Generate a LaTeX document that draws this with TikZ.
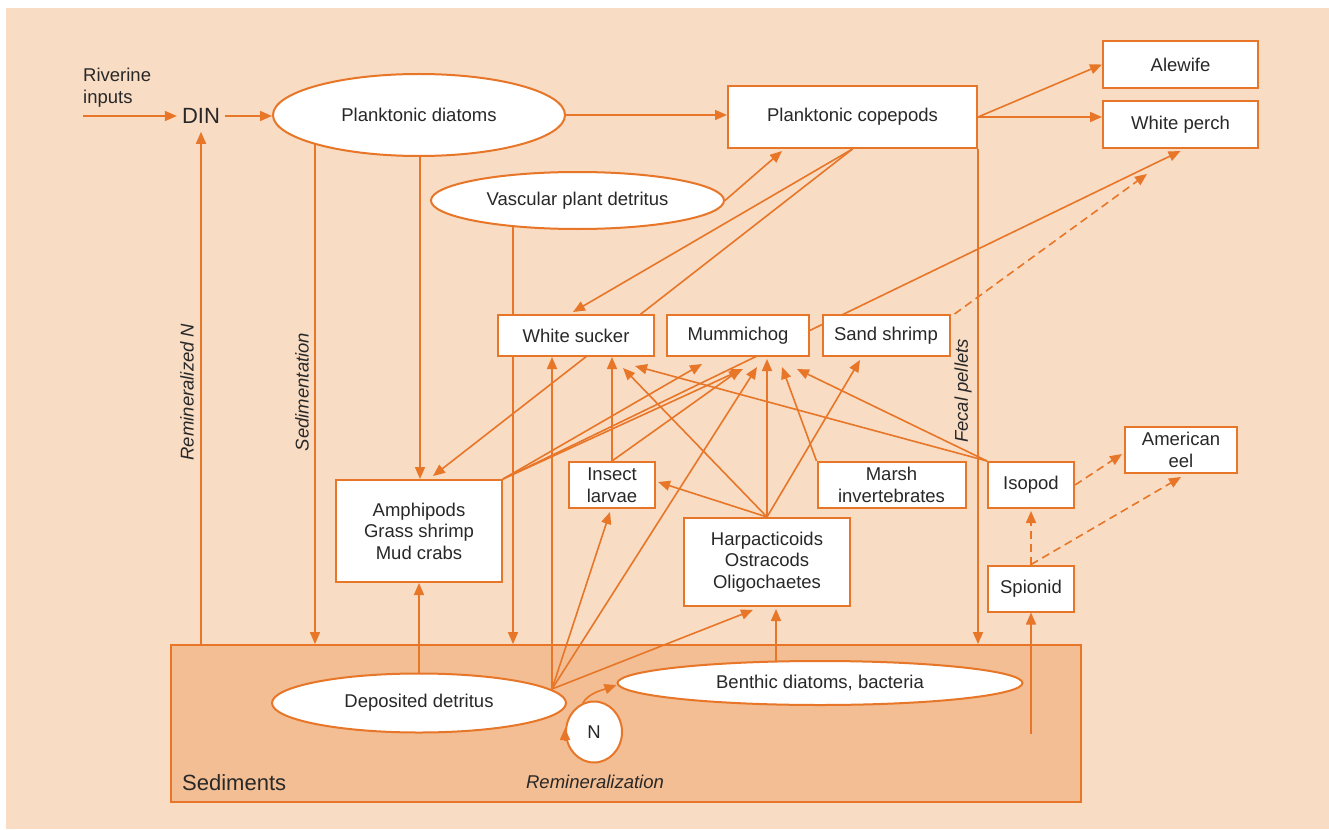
\documentclass[tikz,border=0pt]{standalone}
\usepackage{fontspec}
\setmainfont{Liberation Sans}
\usetikzlibrary{arrows.meta,shapes.geometric,calc}
\definecolor{peach}{RGB}{249,220,196}
\definecolor{sedc}{RGB}{243,190,148}
\definecolor{orc}{RGB}{231,118,40}
\definecolor{txt}{RGB}{40,40,40}
\newcommand\lblfont{\fontsize{18.5}{21.5}\selectfont}
\pgfdeclarelayer{bglayer}
\pgfdeclarelayer{edgelayer}
\pgfsetlayers{bglayer,edgelayer,main}
\begin{document}
\begin{tikzpicture}[x=1pt,y=-1pt,
  every node/.style={text=txt,font=\lblfont,inner sep=0pt},
  box/.style={draw=orc,line width=2pt,fill=white,rectangle,inner sep=0pt,align=center},
  ell/.style={draw=orc,line width=2pt,fill=white,ellipse,inner sep=0pt},
  ln/.style={draw=orc,line width=1.6pt},
  arr/.style={ln,-{Triangle[length=12pt,width=10pt]}},
  darr/.style={arr,dash pattern=on 8pt off 5pt},
  lab/.style={font=\lblfont\itshape,rotate=90}]
\useasboundingbox (0,0) rectangle (1329,829);
\begin{pgfonlayer}{bglayer}
\fill[peach] (6,8) rectangle (1329,829);
\node[draw=orc,fill=sedc,line width=1.8pt,minimum width=910pt,minimum height=157pt] (sed) at (626,723.5) {};
\end{pgfonlayer}

% nodes
\node[ell,minimum width=292pt,minimum height=82pt] (pdia) at (419,115) {Planktonic diatoms};
\node[ell,minimum width=293pt,minimum height=57pt] (vpd) at (577.5,200.5) {Vascular plant detritus};
\node[ell,minimum width=294pt,minimum height=59pt] (det) at (419,703) {Deposited detritus};
\node[ell,minimum width=405pt,minimum height=44pt] (ben) at (820,683) {Benthic diatoms, bacteria};
\node[ell,minimum width=56pt,minimum height=61pt,font=\fontsize{18.5}{21}\selectfont] (nn) at (594,732) {N};

\node[box,minimum width=249pt,minimum height=62pt] (cope) at (852.5,117) {Planktonic copepods};
\node[box,minimum width=155pt,minimum height=47pt] (ale) at (1180.5,64.5) {Alewife};
\node[box,minimum width=155pt,minimum height=47pt] (wp) at (1180.5,124.5) {White perch};
\node[box,minimum width=156pt,minimum height=41pt] (ws) at (576,335.5) {White sucker};
\node[box,minimum width=142pt,minimum height=41pt] (mum) at (738,335.5) {Mummichog};
\node[box,minimum width=127pt,minimum height=41pt] (ss) at (886,335.5) {Sand shrimp};
\node[box,minimum width=166pt,minimum height=102pt] (amph) at (419,531) {Amphipods\\Grass shrimp\\Mud crabs};
\node[box,minimum width=86pt,minimum height=46pt] (ins) at (612,485) {Insect\\larvae};
\node[box,minimum width=148pt,minimum height=46pt] (marsh) at (891.5,485) {Marsh\\invertebrates};
\node[box,minimum width=166pt,minimum height=88pt] (harp) at (767,562) {Harpacticoids\\Ostracods\\Oligochaetes};
\node[box,minimum width=86pt,minimum height=46pt] (iso) at (1031,485) {Isopod};
\node[box,minimum width=112pt,minimum height=46pt] (eel) at (1181,450) {American\\eel};
\node[box,minimum width=86pt,minimum height=46pt] (spi) at (1031,588.5) {Spionid};

% text labels
\node[anchor=base west] (riv1) at (83,82) {Riverine};
\node[anchor=base west] (riv2) at (83,103.5) {inputs};
\node[font=\fontsize{22}{26}\selectfont,inner xsep=5pt,inner ysep=8pt] (din) at (201,116) {DIN};
\node[lab] (lremn) at (187,392) {Remineralized N};
\node[lab] (lsed) at (302,392) {Sedimentation};
\node[lab] (lfec) at (963,391) {Fecal pellets};
\node[font=\lblfont\itshape] (lrem) at (595,782) {Remineralization};
\node[anchor=west,font=\fontsize{22}{26}\selectfont] (lsedi) at (182,783) {Sediments};

% connectors
\begin{pgfonlayer}{edgelayer}
\coordinate (rivin) at (83,116);
\coordinate (detp) at ([xshift=133pt,yshift=14pt]det.center);
\draw[arr] (rivin) -- (din.west);
\draw[arr] (din.east) -- (din.east -| pdia.west);
\draw[arr] (pdia.east) -- (pdia.east -| cope.west);
\draw[arr] (cope.east) -- (ale.west);
\draw[arr] (cope.east) -- (cope.east -| wp.west);
\draw[arr] (vpd.east) -- ([xshift=-70.5pt,yshift=-2pt]cope.south);
\draw[arr] (cope.south) -- ([xshift=-3pt,yshift=2pt]ws.north);
\draw[arr] (cope.south) -- ([xshift=14pt,yshift=3pt]amph.north);
\draw[arr] (cope.south east) -- (cope.south east |- sed.north);
\draw[arr] ([xshift=-104pt]pdia.center) -- ([xshift=-104pt]pdia.center |- sed.north);
\draw[arr] ([xshift=1pt]pdia.center) -- ([xshift=1pt]pdia.center |- amph.north);
\draw[arr] ([xshift=-64.5pt]vpd.center) -- ([xshift=-64.5pt]vpd.center |- sed.north);
\draw[arr] (din.south |- sed.north) -- (din.south);
\draw[arr] (amph.north east) -- ([yshift=-2pt]wp.south);
\draw[darr] ([xshift=4pt]ss.north east) -- ([xshift=-33.5pt,yshift=-25pt]wp.south);
\draw[darr] (iso.east) -- ([xshift=-2pt,yshift=-4pt]eel.west);
\draw[darr] (spi.north) -- ([yshift=-2pt]iso.south);
\draw[darr] (spi.north) -- ([yshift=-3pt]eel.south);
\draw[arr] ([yshift=-121.5pt]spi.south) -- (spi.south);
\draw[arr] ([xshift=-44pt]ben.center) -- ([xshift=9pt,yshift=-2pt]harp.south);
\draw[arr] (det.north) -- (amph.south);
\draw[arr] (nn.111) .. controls +(6,-10) and +(-14,5) .. ([yshift=-2pt]ben.west);
\draw[arr] (detp) -- ([xshift=-24pt]ws.south);
\draw[arr] (ins.north) -- (ins.north |- ws.south);
\draw[arr] (harp.north) -- ([xshift=47pt,yshift=-11pt]ws.south);
\draw[arr] (iso.north west) -- ([xshift=59pt,yshift=-9pt]ws.south);
\draw[arr] (amph.north east) -- ([xshift=-36pt,yshift=-7pt]mum.south);
\draw[arr] (amph.north east) -- ([xshift=5pt,yshift=-12pt]mum.south);
\draw[arr] (ins.north) -- ([xshift=3pt,yshift=-12pt]mum.south);
\draw[arr] (detp) -- ([xshift=19pt,yshift=-10pt]mum.south);
\draw[arr] (harp.north) -- ([yshift=-2pt]harp.north |- mum.south);
\draw[arr] (marsh.north west) -- ([xshift=44pt,yshift=-10pt]mum.south);
\draw[arr] (iso.north west) -- ([xshift=59pt,yshift=-12pt]mum.south);
\draw[arr] (harp.north) -- ([xshift=-26pt,yshift=-3pt]ss.south);
\draw[arr] (harp.north) -- ([xshift=2pt,yshift=3pt]ins.east);
\draw[arr] (detp) -- ([xshift=-2pt,yshift=-3pt]ins.south);
\draw[arr] (detp) -- ([xshift=-14pt,yshift=-3pt]harp.south);
\end{pgfonlayer}

\draw[arr,line width=1.8pt] ([yshift=-8pt]nn.west) -- ([yshift=4pt]nn.west);
\end{tikzpicture}
\end{document}
